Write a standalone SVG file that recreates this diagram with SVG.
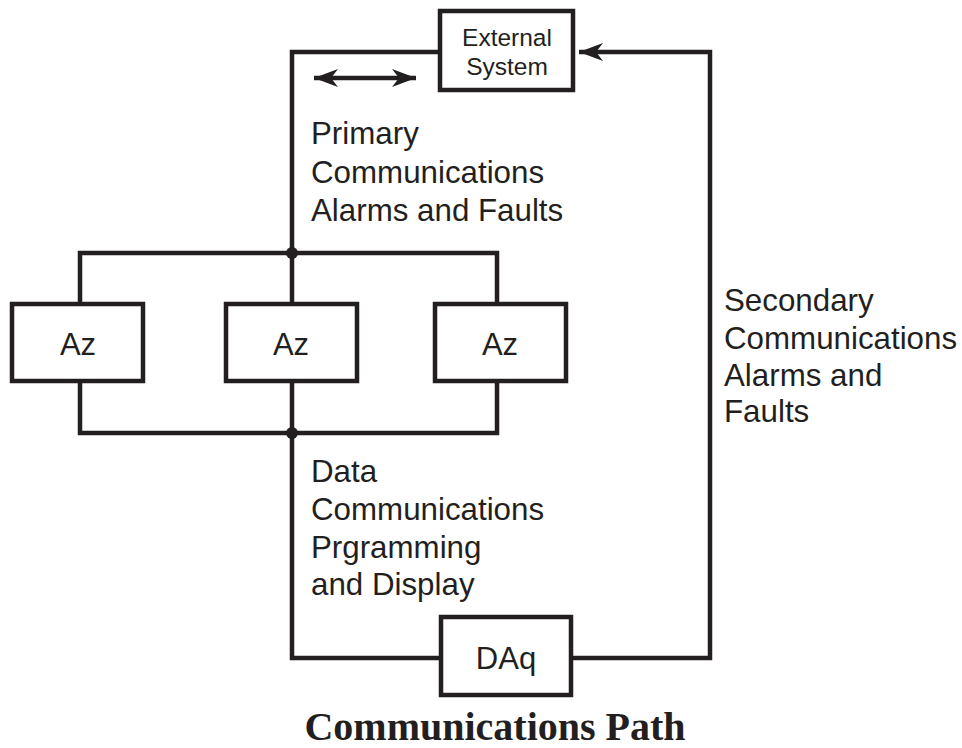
<svg xmlns="http://www.w3.org/2000/svg" width="962" height="748" viewBox="0 0 962 748">
<style>
.box{fill:#fff;stroke:#231f20;stroke-width:4.5}
.ln{fill:none;stroke:#231f20;stroke-width:4.5;stroke-linejoin:miter;stroke-linecap:butt}
.t{font-family:"Liberation Sans",Arial,sans-serif;font-size:31.3px;fill:#231f20}
.tc{font-family:"Liberation Sans",Arial,sans-serif;font-size:31px;fill:#231f20;text-anchor:middle}
.ts{font-family:"Liberation Sans",Arial,sans-serif;font-size:24.5px;fill:#231f20;text-anchor:middle}
.title{font-family:"Liberation Serif","Times New Roman",serif;font-weight:bold;font-size:40px;fill:#231f20;text-anchor:middle}
</style>
<defs>
<marker id="ah" markerUnits="userSpaceOnUse" markerWidth="28" markerHeight="24" viewBox="-26 -12 28 24" refX="0" refY="0" orient="auto-start-reverse">
<path d="M0,0 L-24,-9 L-17,0 L-24,9 Z" fill="#231f20"/>
</marker>
</defs>
<g id="connectors">
<path class="ln" d="M438,52 H292 V302"/>
<path class="ln" d="M80,302 V253 H497 V302"/>
<path class="ln" d="M80,383 V433 H497 V383"/>
<path class="ln" d="M292,383 V658 H439"/>
<path class="ln" d="M573,658 H710 V52 H579" marker-end="url(#ah)"/>
<line class="ln" x1="314" y1="78" x2="416" y2="78" stroke-width="4" marker-start="url(#ah)" marker-end="url(#ah)"/>
<circle cx="292" cy="253" r="6" fill="#231f20"/>
<circle cx="292" cy="433" r="6" fill="#231f20"/>
</g>
<g id="external">
<rect class="box" x="440" y="11" width="133" height="79"/>
<text class="ts" x="507" y="46">External</text>
<text class="ts" x="507" y="75">System</text>
</g>
<g id="az1">
<rect class="box" x="12" y="304" width="131" height="77"/>
<text class="tc" x="78" y="355">Az</text>
</g>
<g id="az2">
<rect class="box" x="226" y="304" width="131" height="77"/>
<text class="tc" x="291" y="355">Az</text>
</g>
<g id="az3">
<rect class="box" x="435" y="304" width="131" height="77"/>
<text class="tc" x="500" y="355">Az</text>
</g>
<g id="daq">
<rect class="box" x="441" y="617" width="130" height="78"/>
<text class="tc" x="506" y="669">DAq</text>
</g>
<g id="labels">
<text class="t" x="311" y="144">Primary</text>
<text class="t" x="311" y="183">Communications</text>
<text class="t" x="311" y="221">Alarms and Faults</text>
<text class="t" x="311" y="482">Data</text>
<text class="t" x="311" y="520">Communications</text>
<text class="t" x="311" y="558">Prgramming</text>
<text class="t" x="311" y="595">and Display</text>
<text class="t" x="724" y="311">Secondary</text>
<text class="t" x="724" y="349">Communications</text>
<text class="t" x="724" y="386">Alarms and</text>
<text class="t" x="724" y="422">Faults</text>
<text class="title" x="495" y="740">Communications Path</text>
</g>
</svg>
